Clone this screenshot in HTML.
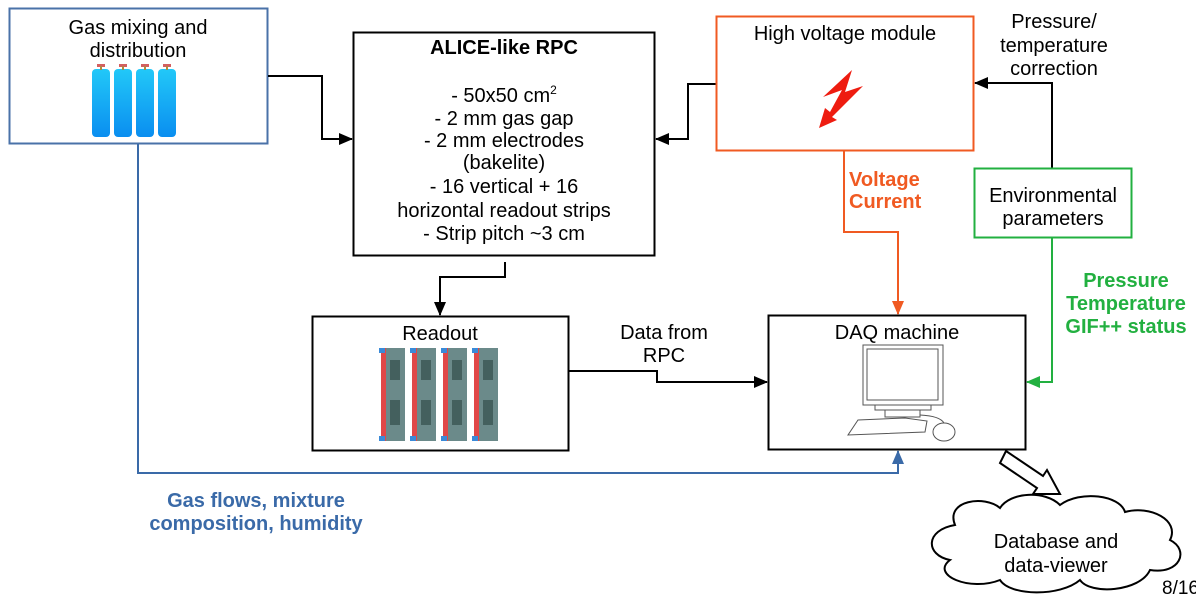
<!DOCTYPE html>
<html><head><meta charset="utf-8"><style>
html,body{margin:0;padding:0;background:#fff;width:1196px;height:597px;overflow:hidden}
svg{display:block;font-family:"Liberation Sans",sans-serif}
</style></head><body>
<svg width="1196" height="597" viewBox="0 0 1196 597" xmlns="http://www.w3.org/2000/svg">
<defs>
<marker id="ak" markerWidth="14" markerHeight="12" refX="13" refY="6" orient="auto" markerUnits="userSpaceOnUse"><path d="M0,0 L14,6 L0,12 Z" fill="#000"/></marker>
<marker id="ab" markerWidth="14" markerHeight="12" refX="13" refY="6" orient="auto" markerUnits="userSpaceOnUse"><path d="M0,0 L14,6 L0,12 Z" fill="#3a6aa8"/></marker>
<marker id="ao" markerWidth="14" markerHeight="12" refX="13" refY="6" orient="auto" markerUnits="userSpaceOnUse"><path d="M0,0 L14,6 L0,12 Z" fill="#f05a22"/></marker>
<marker id="ag" markerWidth="14" markerHeight="12" refX="13" refY="6" orient="auto" markerUnits="userSpaceOnUse"><path d="M0,0 L14,6 L0,12 Z" fill="#22b040"/></marker>
<linearGradient id="cyl" x1="0" y1="0" x2="0" y2="1"><stop offset="0" stop-color="#22c8f8"/><stop offset="1" stop-color="#0a8ef0"/></linearGradient>
</defs>

<rect x="9.5" y="8.5" width="258" height="135" fill="none" stroke="#4a72a8" stroke-width="2"/>
<text x="138" y="34" font-size="20" text-anchor="middle">Gas mixing and</text>
<text x="138" y="57" font-size="20" text-anchor="middle">distribution</text>
<g fill="url(#cyl)">
<rect x="92" y="69" width="18" height="68" rx="4"/>
<rect x="114" y="69" width="18" height="68" rx="4"/>
<rect x="136" y="69" width="18" height="68" rx="4"/>
<rect x="158" y="69" width="18" height="68" rx="4"/>
</g>
<g fill="#d46060"><rect x="97" y="64" width="8" height="3"/><rect x="119" y="64" width="8" height="3"/><rect x="141" y="64" width="8" height="3"/><rect x="163" y="64" width="8" height="3"/></g>
<g fill="#b08a40"><rect x="100" y="66" width="2" height="4"/><rect x="122" y="66" width="2" height="4"/><rect x="144" y="66" width="2" height="4"/><rect x="166" y="66" width="2" height="4"/></g>

<polyline points="268,76 322,76 322,139 352,139" fill="none" stroke="#000" stroke-width="2" marker-end="url(#ak)"/>

<rect x="353.5" y="32.5" width="301" height="223" fill="none" stroke="#000" stroke-width="2"/>
<text x="504" y="54" font-size="20" font-weight="bold" text-anchor="middle">ALICE-like RPC</text>
<g font-size="20" text-anchor="middle">
<text x="504" y="102">- 50x50 cm<tspan font-size="12" dy="-8">2</tspan></text>
<text x="504" y="125">- 2 mm gas gap</text>
<text x="504" y="147">- 2 mm electrodes</text>
<text x="504" y="169">(bakelite)</text>
<text x="504" y="193">- 16 vertical + 16</text>
<text x="504" y="217">horizontal readout strips</text>
<text x="504" y="240">- Strip pitch ~3 cm</text>
</g>

<polyline points="716,84 688,84 688,139 656,139" fill="none" stroke="#000" stroke-width="2" marker-end="url(#ak)"/>

<rect x="716.5" y="16.5" width="257" height="134" fill="none" stroke="#f05a22" stroke-width="2"/>
<text x="845" y="40" font-size="20" text-anchor="middle">High voltage module</text>
<path d="M852,70 L823,97 L842,90 L830,112 L825,108 L819,128 L837,120 L832,117 L863,86 L845,92 Z" fill="#ee1c10"/>

<text x="1054" y="28" font-size="20" text-anchor="middle">Pressure/</text>
<text x="1054" y="52" font-size="20" text-anchor="middle">temperature</text>
<text x="1054" y="75" font-size="20" text-anchor="middle">correction</text>
<polyline points="1052,168 1052,83 975,83" fill="none" stroke="#000" stroke-width="2" marker-end="url(#ak)"/>

<rect x="974.5" y="168.5" width="157" height="69" fill="none" stroke="#22b040" stroke-width="2"/>
<text x="1053" y="202" font-size="20" text-anchor="middle">Environmental</text>
<text x="1053" y="225" font-size="20" text-anchor="middle">parameters</text>
<polyline points="1052,238 1052,382 1027,382" fill="none" stroke="#22b040" stroke-width="2" marker-end="url(#ag)"/>
<g font-size="20" font-weight="bold" fill="#22b040" text-anchor="middle">
<text x="1126" y="287">Pressure</text>
<text x="1126" y="310">Temperature</text>
<text x="1126" y="333">GIF++ status</text>
</g>

<polyline points="844,151 844,232 898,232 898,314" fill="none" stroke="#f05a22" stroke-width="2" marker-end="url(#ao)"/>
<text x="849" y="186" font-size="20" font-weight="bold" fill="#f05a22">Voltage</text>
<text x="849" y="208" font-size="20" font-weight="bold" fill="#f05a22">Current</text>

<polyline points="505,262 505,277 440,277 440,315" fill="none" stroke="#000" stroke-width="2" marker-end="url(#ak)"/>

<rect x="312.5" y="316.5" width="256" height="134" fill="none" stroke="#000" stroke-width="2"/>
<text x="440" y="340" font-size="20" text-anchor="middle">Readout</text>
<g>
<g id="bd">
<rect x="383" y="348" width="22" height="93" fill="#6b8a8a"/>
<rect x="381" y="348" width="5" height="93" fill="#e04848"/>
<rect x="379" y="348" width="6" height="5" fill="#3a8ad8"/>
<rect x="379" y="436" width="6" height="5" fill="#3a8ad8"/>
<rect x="390" y="360" width="10" height="20" fill="#44605e"/>
<rect x="390" y="400" width="10" height="25" fill="#44605e"/>
</g>
<use href="#bd" x="31"/>
<use href="#bd" x="62"/>
<use href="#bd" x="93"/>
</g>

<polyline points="569,371 657,371 657,382 767,382" fill="none" stroke="#000" stroke-width="2" marker-end="url(#ak)"/>
<text x="664" y="339" font-size="20" text-anchor="middle">Data from</text>
<text x="664" y="362" font-size="20" text-anchor="middle">RPC</text>

<rect x="768.5" y="315.5" width="257" height="134" fill="none" stroke="#000" stroke-width="2"/>
<text x="897" y="339" font-size="20" text-anchor="middle">DAQ machine</text>
<g fill="#fff" stroke="#555" stroke-width="1">
<rect x="863" y="345" width="80" height="60"/>
<rect x="867" y="349" width="71" height="51"/>
<rect x="875" y="405" width="56" height="5"/>
<rect x="885" y="410" width="35" height="7"/>
<path d="M858,420 L905,418 L927,421 L925,432 L848,435 Z"/>
<ellipse cx="944" cy="432" rx="11" ry="9"/>
<path d="M920,415 Q940,416 944,423" fill="none"/>
</g>

<polyline points="138,144 138,473 898,473 898,451" fill="none" stroke="#3a6aa8" stroke-width="2" marker-end="url(#ab)"/>
<text x="256" y="507" font-size="20" font-weight="bold" fill="#3a6aa8" text-anchor="middle">Gas flows, mixture</text>
<text x="256" y="530" font-size="20" font-weight="bold" fill="#3a6aa8" text-anchor="middle">composition, humidity</text>

<path d="M1006,451 L1043,476 L1047,470 L1060,494 L1033,494 L1037,488 L1000,463 Z" fill="#fff" stroke="#000" stroke-width="2"/>

<path d="M955,525 C945,500 985,495 1000,508 C1010,492 1045,490 1060,505 C1080,490 1120,495 1125,512 C1150,505 1180,520 1170,540 C1190,550 1180,575 1150,570 C1140,592 1090,595 1080,580 C1060,597 1010,596 1000,580 C970,592 930,575 950,560 C925,555 925,530 955,525 Z" fill="#fff" stroke="#000" stroke-width="2"/>
<text x="1056" y="548" font-size="20" text-anchor="middle">Database and</text>
<text x="1056" y="572" font-size="20" text-anchor="middle">data-viewer</text>
<text x="1162" y="594" font-size="19">8/16</text>
</svg>
</body></html>
